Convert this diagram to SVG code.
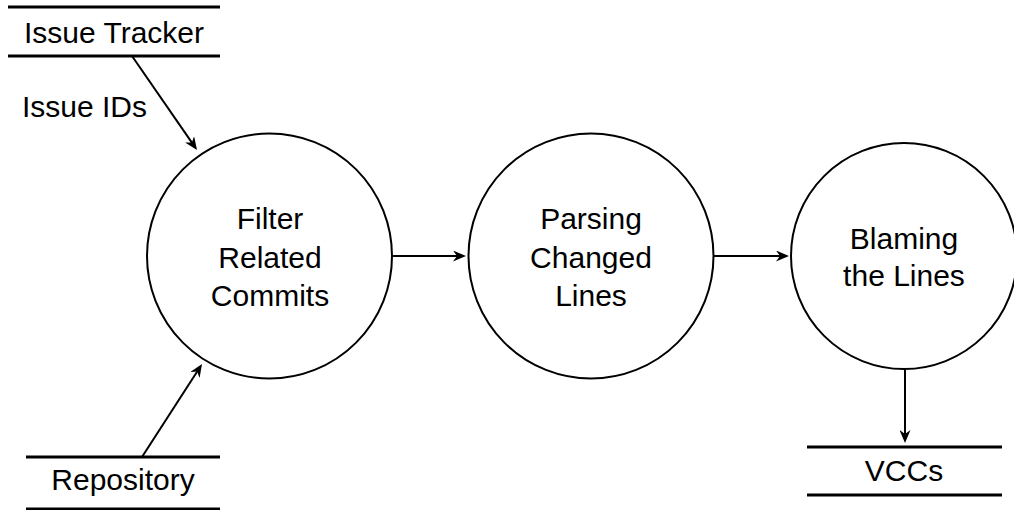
<svg xmlns="http://www.w3.org/2000/svg" width="1014" height="510" viewBox="0 0 1014 510">
  <style>
    text { font-family: "Liberation Sans", Arial, Helvetica, sans-serif; font-size: 30px; fill: #000; }
    .c { text-anchor: middle; }
    .proc { fill: #fff; stroke: #000; stroke-width: 2; }
    .store { stroke: #000; stroke-width: 3; }
    .flow { stroke: #000; stroke-width: 2; fill: none; marker-end: url(#arrow); }
  </style>
  <defs>
    <marker id="arrow" viewBox="0 0 13 11" markerWidth="13" markerHeight="11" refX="8" refY="5.5" orient="auto" markerUnits="userSpaceOnUse">
      <path d="M0,0 L13,5.5 L0,11 L4,5.5 Z" fill="#000"/>
    </marker>
  </defs>

  <rect width="1014" height="510" fill="#fff"/>

  <!-- data flows -->
  <g id="connectors">
    <line class="flow" x1="132" y1="56" x2="194.15" y2="145.9"/>
    <line class="flow" x1="142" y1="457" x2="199.3" y2="368.2"/>
    <line class="flow" x1="392" y1="256" x2="461" y2="256"/>
    <line class="flow" x1="713" y1="256" x2="784" y2="256"/>
    <line class="flow" x1="905" y1="369" x2="905" y2="438"/>
  </g>

  <!-- data stores -->
  <g id="issue-tracker">
    <line class="store" x1="8" y1="7" x2="220" y2="7"/>
    <line class="store" x1="8" y1="56" x2="220" y2="56"/>
    <text class="c" x="114" y="43">Issue Tracker</text>
  </g>
  <g id="issue-ids-label">
    <text x="22" y="117">Issue IDs</text>
  </g>
  <g id="repository">
    <line class="store" x1="26" y1="457" x2="220" y2="457"/>
    <line class="store" x1="26" y1="509" x2="220" y2="509"/>
    <text class="c" x="123" y="490">Repository</text>
  </g>
  <g id="vccs">
    <line class="store" x1="807" y1="447" x2="1002" y2="447"/>
    <line class="store" x1="807" y1="495" x2="1002" y2="495"/>
    <text class="c" x="904" y="481">VCCs</text>
  </g>

  <!-- processes -->
  <g id="filter-related-commits">
    <circle class="proc" cx="269.5" cy="256" r="122.5"/>
    <text class="c" x="270" y="229">Filter</text>
    <text class="c" x="270" y="268">Related</text>
    <text class="c" x="270" y="306">Commits</text>
  </g>
  <g id="parsing-changed-lines">
    <circle class="proc" cx="591" cy="256" r="122.5"/>
    <text class="c" x="591" y="229">Parsing</text>
    <text class="c" x="591" y="268">Changed</text>
    <text class="c" x="591" y="306">Lines</text>
  </g>
  <g id="blaming-the-lines">
    <circle class="proc" cx="904" cy="256" r="113"/>
    <text class="c" x="904" y="249">Blaming</text>
    <text class="c" x="904" y="286">the Lines</text>
  </g>
</svg>
